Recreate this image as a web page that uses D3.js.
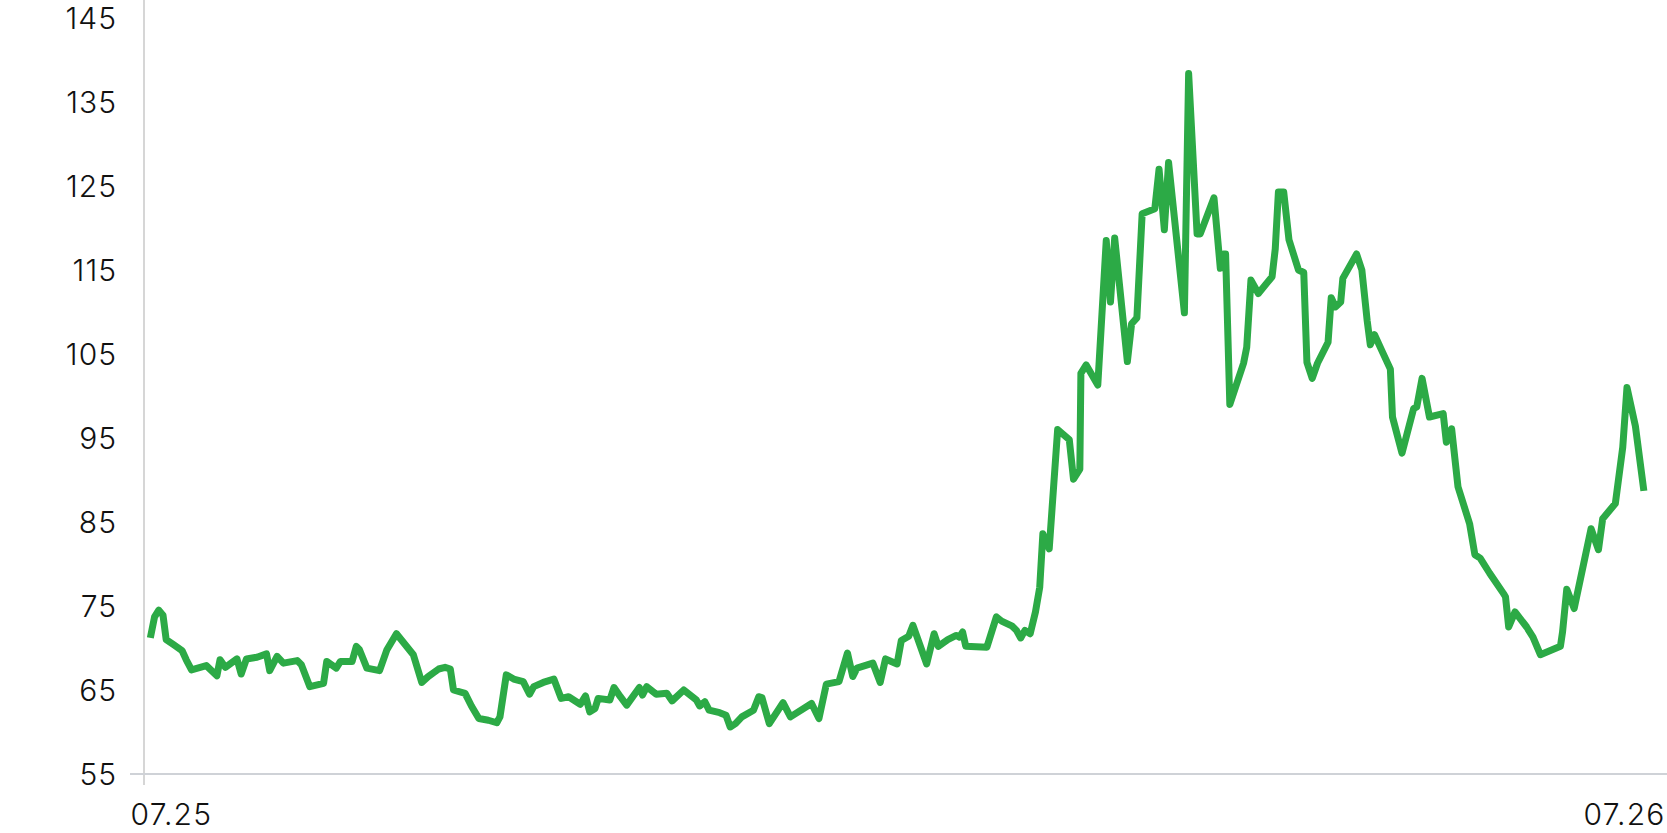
<!DOCTYPE html>
<html>
<head>
<meta charset="utf-8">
<script src="https://cdn.jsdelivr.net/npm/d3@7"></script>
<style>
  html, body { margin: 0; padding: 0; background: #ffffff; }
  svg { display: block; }
  text { font-family: Inter, "Open Sans", sans-serif; font-weight: 300; fill: #111; }
</style>
</head>
<body>
<svg id="chart" width="1667" height="833"></svg>
<script>
// minutes since 07.25 00:00
const minutes = [6,10,14,18,21,28,36,40,45,59,69,72,77,88,92,97,107,116,119,126,132,145,149,157,170,173,182,186,197,201,204,211,223,230,239,255,263,269,279,285,290,293,304,310,317,326,334,337,343,
350,359,365,369,378,388,395,402,413,418,422,427,430,441,445,451,457,469,472,476,485,495,500,511,523,526,531,535,545,551,555,560,566,577,582,585,592,605,612,632,639,646,658,666,671,675,690,697,
702,713,717,724,728,741,748,752,761,769,772,775,778,798,807,812,822,826,830,834,839,844,848,851,
857,865,876,880,886,887,892,903,911,915,919,931,935,940,945,957,961,966,970,985,989,997,1000,1013,1019,1022,1024,1028,1041,1044,1048,1055,1068,1071,1074,1079,1084,1093,1098,1101,1106,1111,1121,1124,1128,1133,1135,1148,1153,1158,1161,1165,1173,1180,1182,1191,1202,1205,1210,1217,1230,1233,1238,1244,1255,1260,1265,1274,1287,1289,1292,1298,1309,1315,1322,1341,1343,1347,1354,1370,1377,1381,1393,1400,1404,1412,1420];
const values = [71.2,73.7,74.5,73.9,71.0,70.4,69.7,68.6,67.4,67.9,66.7,68.6,67.7,68.7,66.9,68.7,68.9,69.3,67.3,69.0,68.2,68.5,68.0,65.4,65.8,68.4,67.6,68.4,68.4,70.2,69.8,67.6,67.3,69.8,71.7,69.2,65.9,66.6,67.5,67.7,67.5,65.0,64.6,63.1,61.6,61.4,61.1,61.8,66.8,
66.3,66.0,64.5,65.4,65.9,66.3,64.0,64.2,63.3,64.3,62.4,62.8,64.0,63.8,65.3,64.2,63.2,65.3,64.4,65.4,64.5,64.6,63.7,65.0,63.8,63.1,63.6,62.6,62.3,62.0,60.6,61.0,61.8,62.6,64.2,64.1,61.0,63.5,61.8,63.4,61.6,65.7,66.0,69.4,66.6,67.6,68.2,65.9,
68.7,68.1,70.9,71.4,72.7,68.1,71.7,70.2,71.0,71.5,71.3,71.9,70.2,70.1,73.7,73.2,72.6,72.1,71.2,72.1,71.7,74.3,77.2,83.6,
81.8,96.0,94.8,90.1,91.3,102.7,103.7,101.3,118.5,111.2,118.8,104.1,108.6,109.3,121.7,122.3,127.0,119.8,127.8,109.9,138.4,119.3,119.3,123.6,115.2,116.9,116.9,99.0,103.9,105.8,113.8,112.2,114.2,117.5,124.3,124.3,118.6,115.0,114.7,104.0,102.1,103.9,106.4,111.7,110.6,111.2,114.0,116.9,115.0,109.0,106.1,107.3,105.1,103.2,97.5,93.2,98.5,98.7,102.1,97.5,97.9,94.5,96.1,89.2,84.8,81.1,80.7,78.9,76.5,76.1,72.5,74.3,72.5,71.3,69.2,70.2,71.9,77.0,74.7,84.2,81.7,85.4,87.2,93.9,101.0,96.4,88.7];
const yTicks = [55,65,75,85,95,105,115,125,135,145];
const xTickMinutes = [0,1440];
const xTickLabels = ["07.25","07.26"];

const svg = d3.select("#chart");
const x = d3.scaleLinear().domain([0,1440]).range([144,1665]);
const y = d3.scaleLinear().domain([55,145]).range([774,18]);

// vertical axis line
svg.append("line")
  .attr("x1",144).attr("x2",144).attr("y1",0).attr("y2",785)
  .attr("stroke","#d6d6d6").attr("stroke-width",2);
// horizontal axis line
svg.append("line")
  .attr("x1",130).attr("x2",1667).attr("y1",y(55)).attr("y2",y(55))
  .attr("stroke","#cfd2d7").attr("stroke-width",2);

const yAxis = d3.axisLeft(y).tickValues(yTicks).tickSize(0).tickPadding(27).tickFormat(d3.format("d"));
const gy = svg.append("g").attr("transform","translate(144,0)").call(yAxis);
gy.select(".domain").remove();
gy.selectAll("text")
  .style("font-size","30px").style("letter-spacing","1px")
  .style("font-family","Inter, 'Open Sans', sans-serif").attr("fill","#111")
  .attr("dy","0.34em");

const xAxis = d3.axisBottom(x).tickValues(xTickMinutes).tickSize(0).tickFormat((d,i)=>xTickLabels[i]);
const gx = svg.append("g").attr("transform","translate(0,774)").call(xAxis);
gx.select(".domain").remove();
gx.selectAll("text")
  .style("font-size","30px").style("letter-spacing","1.2px")
  .style("font-family","Inter, 'Open Sans', sans-serif").attr("fill","#111")
  .attr("y",null).attr("dy",null)
  .each(function(d,i){
    const t = d3.select(this);
    t.attr("y",51);
    if(i===0){ t.attr("text-anchor","start").attr("x",-14); }
    else { t.attr("text-anchor","end").attr("x",0); }
  });

const data = minutes.map((m,i)=>({m, v: values[i]}));
const line = d3.line().x(d=>x(d.m)).y(d=>y(d.v));
svg.append("path").datum(data)
  .attr("d",line)
  .attr("fill","none")
  .attr("stroke","#2caa46")
  .attr("stroke-width",7)
  .attr("stroke-linejoin","round")
  .attr("stroke-linecap","butt");
</script>
</body>
</html>
